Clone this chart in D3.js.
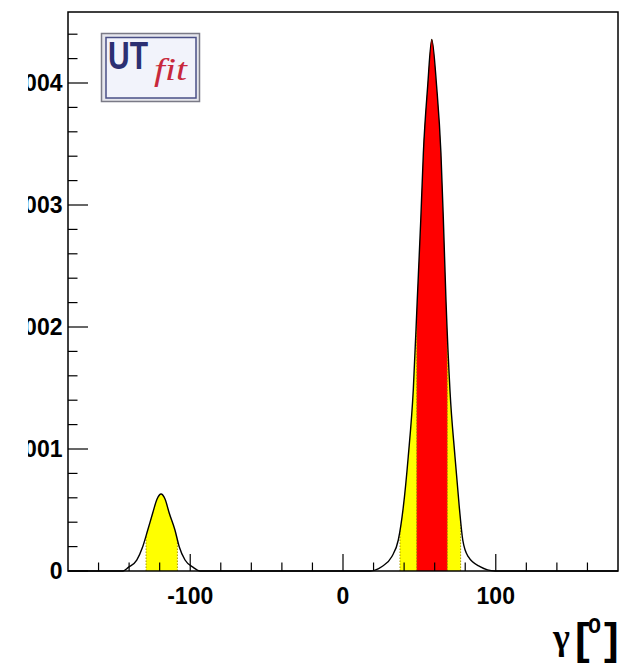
<!DOCTYPE html>
<html>
<head>
<meta charset="utf-8">
<script src="https://cdn.jsdelivr.net/npm/d3@7"></script>
<style>
  html, body { margin: 0; padding: 0; background: #fff; }
  svg { display: block; }
</style>
</head>
<body>
<svg id="chart" width="640" height="671"></svg>
<script>
// Posterior density of the CKM angle gamma (degrees)
const gammaDeg = [-180, -144.0, -140.5, -135.0, -131.1, -127.8, -124.6, -121.7, -119.1, -116.5, -113.7, -110.0, -107.2, -103.4, -98.0, -93.6,
                  17.7, 25.3, 31.9, 36.2, 39.5, 42.7, 46.0, 48.6, 50.9, 52.6, 55.4, 58.1, 61.3, 64.1, 65.7, 67.4, 70.0, 73.3, 76.1, 78.4, 82.0, 89.7, 99.5, 180];
const density  = [0, 0, 0.000030, 0.000090, 0.000199, 0.000336, 0.000473, 0.000590, 0.000631, 0.000590, 0.000473, 0.000336, 0.000199, 0.000090, 0.000030, 0,
                  0, 0.000035, 0.000117, 0.000254, 0.000527, 0.000937, 0.001484, 0.002221, 0.002877, 0.003426, 0.003970, 0.004358, 0.003970, 0.003426, 0.002877, 0.002221, 0.001484, 0.000937, 0.000527, 0.000254, 0.000117, 0.000035, 0, 0];

// Probability regions: 95% (yellow) and 68% (red)
const region95 = [[-128.9, -108.4], [37.3, 77.0]];
const region68 = [[48.2, 68.3]];

const xTickLabels = [-100, 0, 100];
const yTickLabels = [0, 0.001, 0.002, 0.003, 0.004];

const svg = d3.select("#chart");
const frame = { left: 68, right: 618, top: 12, bottom: 571 };

const x = d3.scaleLinear().domain([-180, 180]).range([frame.left, frame.right]);
const y = d3.scaleLinear().domain([0, 0.004582]).range([frame.bottom, frame.top]);

const pts = gammaDeg.map((g, i) => [g, density[i]]);
const area = d3.area().x(d => x(d[0])).y0(y(0)).y1(d => y(d[1])).curve(d3.curveMonotoneX);
const line = d3.line().x(d => x(d[0])).y(d => y(d[1])).curve(d3.curveMonotoneX);

const defs = svg.append("defs");

// clip under the density curve, for the region boundaries
defs.append("clipPath").attr("id", "under-curve")
  .append("path").attr("d", area(pts));

// clip for cropped y tick labels
defs.append("clipPath").attr("id", "label-clip")
  .append("rect").attr("x", 28).attr("y", 0).attr("width", 50).attr("height", 671);

function drawRegions(regions, color, tag) {
  regions.forEach((r, i) => {
    const id = `clip-${tag}-${i}`;
    defs.append("clipPath").attr("id", id)
      .append("rect")
      .attr("x", x(r[0])).attr("y", frame.top)
      .attr("width", x(r[1]) - x(r[0])).attr("height", frame.bottom - frame.top);
    svg.append("path")
      .attr("d", area(pts))
      .attr("fill", color)
      .attr("clip-path", `url(#${id})`);
  });
}
drawRegions(region95, "#ffff00", "y");
drawRegions(region68, "#ff0000", "r");

// dotted boundaries of the regions
const edges = region95.flat().concat(region68.flat());
svg.append("g").attr("clip-path", "url(#under-curve)")
  .selectAll("line").data(edges).join("line")
  .attr("x1", d => x(d)).attr("x2", d => x(d))
  .attr("y1", frame.bottom).attr("y2", frame.top)
  .attr("stroke", "#a89a00").attr("stroke-width", 1)
  .attr("stroke-dasharray", "1.5,1.5");

// density curve
svg.append("path")
  .attr("d", line(pts))
  .attr("fill", "none")
  .attr("stroke", "#000")
  .attr("stroke-width", 1.4);

// frame
svg.append("rect")
  .attr("x", frame.left).attr("y", frame.top)
  .attr("width", frame.right - frame.left).attr("height", frame.bottom - frame.top)
  .attr("fill", "none").attr("stroke", "#000").attr("stroke-width", 1.5);

// x axis ticks (inward)
const xMinor = d3.range(-160, 161, 20);
svg.append("g").selectAll("line").data(xMinor).join("line")
  .attr("x1", d => x(d)).attr("x2", d => x(d))
  .attr("y1", frame.bottom)
  .attr("y2", d => frame.bottom - (xTickLabels.includes(d) ? 17 : 8.5))
  .attr("stroke", "#000").attr("stroke-width", 1.2);

svg.append("g").selectAll("text").data(xTickLabels).join("text")
  .attr("x", d => x(d)).attr("y", 604)
  .attr("text-anchor", "middle")
  .attr("font-family", "Liberation Sans, Arial, sans-serif")
  .attr("font-weight", "bold").attr("font-size", 23)
  .text(d => String(d));

// y axis ticks (inward)
const yMinor = d3.range(0, 23).map(i => i * 0.0002);
svg.append("g").selectAll("line").data(yMinor).join("line")
  .attr("x1", frame.left)
  .attr("x2", (d, i) => frame.left + (i % 5 === 0 ? 20 : 9.5))
  .attr("y1", d => y(d)).attr("y2", d => y(d))
  .attr("stroke", "#000").attr("stroke-width", 1.2);

svg.append("g").attr("clip-path", "url(#label-clip)")
  .selectAll("text").data(yTickLabels).join("text")
  .attr("x", 62.5).attr("y", d => y(d) + 8.3)
  .attr("text-anchor", "end")
  .attr("font-family", "Liberation Sans, Arial, sans-serif")
  .attr("font-weight", "bold").attr("font-size", 23)
  .text(d => d === 0 ? "0" : d3.format(".3f")(d));

// axis title: gamma[deg]
const title = svg.append("g");
title.append("text").attr("x", 553).attr("y", 649)
  .attr("font-family", "Liberation Serif, Times New Roman, serif")
  .attr("font-weight", "bold").attr("font-size", 36).text("γ");
title.append("text").attr("x", 575).attr("y", 654)
  .attr("font-family", "Liberation Sans, Arial, sans-serif")
  .attr("font-weight", "bold").attr("font-size", 44).text("[");
title.append("text").attr("x", 588).attr("y", 633)
  .attr("font-family", "Liberation Sans, Arial, sans-serif")
  .attr("font-weight", "bold").attr("font-size", 28)
  .attr("textLength", 13).attr("lengthAdjust", "spacingAndGlyphs").text("o");
title.append("text").attr("x", 604).attr("y", 654)
  .attr("font-family", "Liberation Sans, Arial, sans-serif")
  .attr("font-weight", "bold").attr("font-size", 44).text("]");

// UTfit logo
const logo = svg.append("g");
logo.append("rect").attr("x", 101.5).attr("y", 33.5).attr("width", 98).attr("height", 68)
  .attr("fill", "#e6e6ec").attr("stroke", "#7a7a86").attr("stroke-width", 1.5);
logo.append("rect").attr("x", 106).attr("y", 37.5).attr("width", 90).attr("height", 60.5)
  .attr("fill", "#f2f3fb").attr("stroke", "#4a4f86").attr("stroke-width", 1.5);
logo.append("text")
  .attr("transform", "translate(108,68.5) scale(1,1.28)")
  .attr("font-family", "Liberation Sans, Arial, sans-serif")
  .attr("font-weight", "bold").attr("font-size", 30).attr("fill", "#2c2f72")
  .text("UT");
logo.append("text").attr("x", 154).attr("y", 80)
  .attr("font-family", "Liberation Serif, Times New Roman, serif")
  .attr("font-style", "italic").attr("font-size", 32).attr("fill", "#c8283c")
  .attr("textLength", 33).attr("lengthAdjust", "spacingAndGlyphs").text("fit");
</script>
</body>
</html>
